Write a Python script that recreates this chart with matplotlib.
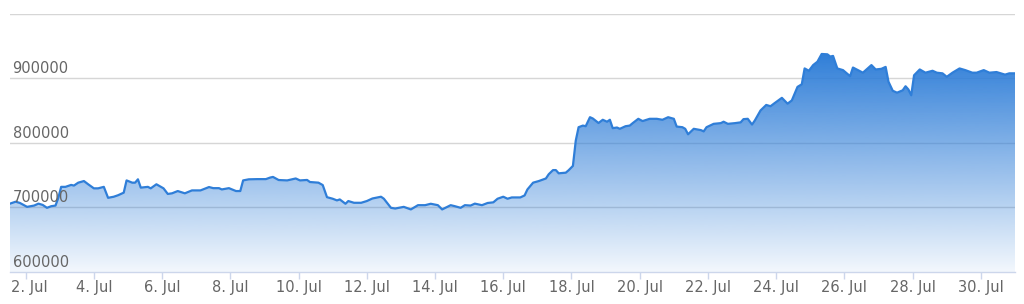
import numpy as np
import pandas as pd
import matplotlib
matplotlib.use('Agg')
import matplotlib.pyplot as plt
import matplotlib.dates as mdates
from matplotlib.ticker import FuncFormatter
from matplotlib.transforms import blended_transform_factory, offset_copy, ScaledTranslation

# hours since 1 Jul 00:00 and the value read at that hour
hours = [13, 17, 20, 25, 30, 33, 36, 39, 42, 45, 47, 49, 52, 56, 58, 61, 65, 68,
         72, 75, 79, 82, 86, 89, 93, 95, 99, 101, 103, 105, 110, 112, 116, 121,
         124, 127, 131, 136, 141, 147, 153, 156, 160, 162, 167, 172, 175, 177,
         181, 187, 193, 196, 198, 202, 208, 214, 217, 222, 224, 230, 233, 236,
         240, 243, 245, 249, 251, 255, 260, 264, 268, 274, 276, 281, 284, 290,
         295, 300, 305, 309, 314, 317, 323, 326, 330, 333, 337, 340, 345, 349,
         353, 356, 360, 363, 366, 372, 375, 377, 381, 385, 390, 392, 395, 397,
         399, 404, 406, 409, 411, 413, 416, 418, 421, 423, 427, 430, 433, 435,
         437, 440, 442, 446, 449, 451, 455, 458, 463, 468, 472, 476, 480, 482,
         486, 488, 490, 494, 499, 501, 503, 508, 513, 515, 518, 523, 527, 529,
         532, 535, 537, 541, 545, 548, 551, 556, 560, 563, 567, 570, 572, 575,
         578, 581, 584, 588, 590, 592, 595, 599, 604, 606, 613, 619, 622, 626,
         629, 631, 634, 637, 641, 643, 645, 647, 649, 653, 657, 662, 665, 669,
         672, 676, 681, 685, 690, 693, 698, 702, 707, 713, 716, 720]
values = [706000, 709000, 707000, 701000, 703000, 706000, 704000, 699500, 702000,
          703000, 715000, 732000, 732000, 735000, 734000, 738500, 741000, 736000,
          729700, 729700, 732000, 715000, 716700, 719000, 723000, 742000, 738500,
          738500, 743700, 730800, 732000, 729700, 736000, 729700, 721000, 722000,
          725500, 722000, 726500, 726500, 731700, 730000, 730000, 728000, 730000,
          725500, 725500, 742000, 743700, 744000, 744000, 746400, 747400, 742600,
          742000, 745000, 742000, 742700, 739500, 738500, 734800, 716000, 713600,
          711000, 712500, 705800, 710000, 707300, 707300, 710000, 714000, 716700,
          713600, 699500, 698400, 701000, 697000, 703600, 703600, 705800, 703600,
          697000, 703600, 702000, 699500, 703600, 703000, 706000, 703600, 707000,
          708000, 713600, 716700, 713600, 715600, 715600, 718700, 728000, 738500,
          741000, 745000, 751600, 758000, 758000, 753000, 754000, 757800, 764500,
          803600, 824500, 827000, 826000, 840000, 838000, 831000, 836000, 833000,
          836000, 823000, 824000, 822000, 826000, 827000, 830700, 837500, 834000,
          837500, 837500, 836000, 840000, 837500, 825500, 824500, 822000, 813500,
          822000, 820000, 818000, 824500, 829700, 830800, 833000, 829700, 830800,
          832000, 837000, 837500, 828600, 835000, 850500, 859000, 857000, 862000,
          870000, 861000, 866000, 887000, 891000, 915600, 912000, 920800, 926000,
          938000, 937500, 934000, 935000, 915600, 913000, 903600, 917000, 909000,
          920800, 914000, 915000, 918000, 895000, 881000, 878000, 881700, 888000,
          883000, 874000, 905000, 914000, 909000, 912000, 909000, 908000, 902600,
          909000, 915600, 913000, 909000, 909000, 913000, 909000, 910000, 906000,
          908000, 908000]

yticks = [600000, 700000, 800000, 900000, 1000000]
ylabels = ['600000', '700000', '800000', '900000', '']
xtick_days = list(range(2, 31, 2))

start = pd.Timestamp('2023-07-01')
times = start + pd.to_timedelta(hours, unit='h')
x = mdates.date2num(times.to_pydatetime())
y = np.array(values)

line_color = '#2f7ed8'

fig = plt.figure(figsize=(10.24, 3.04), dpi=100)
ax = fig.add_axes([10 / 1024, 32 / 304, 1005 / 1024, 258 / 304])
ax.set_xlim(x[0], x[-1])
ax.set_ylim(600000, 1000000)

# grid
for v in yticks[1:]:
    ax.axhline(v, color='#d6d6d6', lw=1, zorder=1)

# gradient fill under the line
poly = ax.fill_between(x, y, 600000, color='none', lw=0, zorder=2)
n = 256
grad = np.zeros((n, 1, 4))
rgb = matplotlib.colors.to_rgb(line_color)
grad[:, 0, 0] = rgb[0]
grad[:, 0, 1] = rgb[1]
grad[:, 0, 2] = rgb[2]
grad[:, 0, 3] = np.linspace(1.0, 0.06, n)
im = ax.imshow(grad, aspect='auto', origin='upper',
               extent=[x[0], x[-1], 600000, y.max()], zorder=2)
im.set_clip_path(poly.get_paths()[0], transform=ax.transData)

ax.plot(x, y, color=line_color, lw=1.6, zorder=3, solid_joinstyle='round')

# y labels sit above their grid line, inside the plot
trans = blended_transform_factory(ax.transAxes, ax.transData)
trans = offset_copy(trans, fig=fig, x=2.5, y=2, units='dots')
for v, lab in zip(yticks, ylabels):
    ax.text(0, v, lab, transform=trans, ha='left', va='bottom',
            fontsize=10.5, color='#666666', zorder=5)
ax.set_yticks([])

# x axis
tick_pos = [mdates.date2num(start + pd.Timedelta(days=d - 1)) for d in xtick_days]
ax.set_xticks(tick_pos)
ax.xaxis.set_major_formatter(FuncFormatter(lambda v, p: f"{mdates.num2date(v).day}. Jul"))
ax.tick_params(axis='x', colors='#ccd6eb', labelcolor='#666666', length=5,
               width=1, pad=1, labelsize=10.5)
for s in ['top', 'left', 'right']:
    ax.spines[s].set_visible(False)
ax.spines['bottom'].set_color('#ccd6eb')
ax.spines['bottom'].set_linewidth(1)
ax.spines['bottom'].set_zorder(4)

# first label is pushed right so it stays inside the chart
fig.canvas.draw()
first = ax.get_xticklabels()[0]
first.set_transform(first.get_transform() + ScaledTranslation(4 / 100, 0, fig.dpi_scale_trans))

fig.savefig('out.png', dpi=100)
